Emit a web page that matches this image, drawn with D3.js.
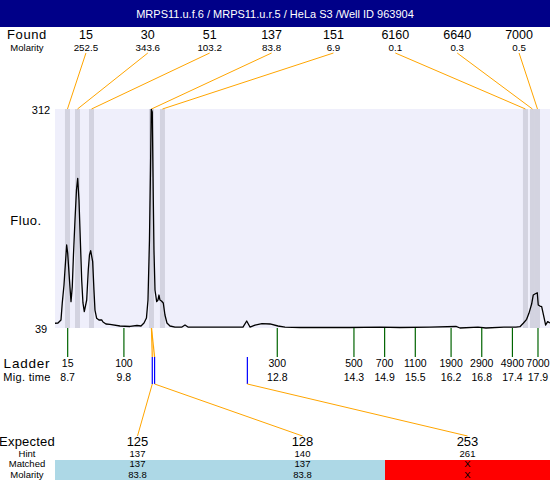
<!DOCTYPE html>
<html><head><meta charset="utf-8">
<script src="https://cdn.jsdelivr.net/npm/d3@7"></script>
<style>body{margin:0;background:#fff}svg{display:block;font-family:"Liberation Sans",Arial,sans-serif}</style>
</head><body><svg id="c" width="550" height="480"></svg>
<script>
const title = "MRPS11.u.f.6 / MRPS11.u.r.5 / HeLa S3 /Well ID 963904";
const foundSizes = ["15","30","51","137","151","6160","6640","7000"];
const foundMolarity = ["252.5","343.6","103.2","83.8","6.9","0.1","0.3","0.5"];
const foundTimes = [8.696, 8.892, 9.166, 10.339, 10.554, 17.655, 17.792, 17.890];
const ladderSizes = [15,100,300,500,700,1100,1900,2900,4900,7000];
const ladderTimes = [8.7,9.8,12.8,14.3,14.9,15.5,16.2,16.8,17.4,17.9];
const yTickValues = [39, 312];
const curveTime = [8.452,8.510,8.569,8.594,8.628,8.647,8.680,8.700,8.735,8.765,8.790,8.813,8.843,8.872,8.896,8.921,8.941,8.974,8.999,9.025,9.072,9.103,9.126,9.150,9.189,9.214,9.234,9.267,9.312,9.365,9.391,9.449,9.527,9.723,9.919,10.056,10.134,10.193,10.241,10.271,10.300,10.320,10.335,10.355,10.375,10.388,10.408,10.441,10.466,10.486,10.505,10.535,10.570,10.603,10.642,10.701,10.799,10.936,10.995,11.053,11.288,11.679,12.129,12.202,12.266,12.364,12.501,12.658,12.814,12.951,13.245,14.222,14.809,15.200,15.787,16.296,16.374,16.726,16.882,17.234,17.469,17.547,17.612,17.678,17.723,17.776,17.807,17.840,17.886,17.905,17.938,17.972,18.022,18.050,18.089,18.134];
const curveFluo = [44.9,45.2,49.0,70.2,92.6,111.3,142.5,132.5,98.8,71.8,90.5,130.0,173.6,211.0,225.6,198.6,161.2,98.8,70.2,59.3,73.9,111.3,130.0,135.4,121.7,86.4,61.4,51.1,49.0,49.0,46.5,44.0,43.4,41.5,40.9,42.1,41.5,45.2,51.5,73.9,148.7,236.0,311.6,308.3,198.6,136.2,86.4,71.8,73.9,80.1,73.9,72.7,70.2,55.2,45.2,41.5,40.2,40.2,42.7,40.2,40.2,40.2,40.2,47.7,40.2,42.7,44.4,44.0,41.5,40.2,39.6,39.6,40.2,39.6,40.2,40.9,39.0,40.2,39.0,40.2,40.2,40.6,44.9,49.8,57.3,68.9,80.1,81.4,83.0,67.7,66.4,65.6,51.1,42.7,46.9,45.2];
const expectedSizes = ["125","128","253"];
const hintSizes = [137,140,261];
const matchedSizes = ["137","137","X"];
const matchedMolarity = ["83.8","83.8","X"];
const matchedPeak = [3,3,-1];

const svg = d3.select("#c");
const L=55, R=550, T=109, B=328;
const x = d3.scaleLinear().domain([8.452,18.135]).range([L,R]);
const y = d3.scaleLinear().domain([39,312]).range([B,T]);
const sizeToTime = d3.scaleLinear().domain(ladderSizes).range(ladderTimes);
const orange="#FFA500";

// header
svg.append("rect").attr("x",0).attr("y",0).attr("width",550).attr("height",27).attr("fill","#000088");
svg.append("text").attr("x",275).attr("y",18).attr("text-anchor","middle").attr("fill","#fff").attr("font-size",11).text(title);

// found row
const fx = d3.scaleBand().domain(d3.range(foundSizes.length)).range([L,R]);
svg.append("text").attr("x",27).attr("y",38.5).attr("text-anchor","middle").attr("font-size",13).attr("letter-spacing",0.6).text("Found");
svg.append("text").attr("x",27).attr("y",50.5).attr("text-anchor","middle").attr("font-size",9.5).text("Molarity");
foundSizes.forEach((s,i)=>{
  const cx = fx(i)+fx.bandwidth()/2;
  svg.append("text").attr("x",cx).attr("y",38.5).attr("text-anchor","middle").attr("font-size",12.5).text(s);
  svg.append("text").attr("x",cx).attr("y",50.5).attr("text-anchor","middle").attr("font-size",9.8).text(foundMolarity[i]);
});

// plot bg
svg.append("rect").attr("x",L).attr("y",T).attr("width",R-L).attr("height",B-T).attr("fill","#EFEFFB");
const half = 0.049;
svg.selectAll("rect.band").data(foundTimes).enter().append("rect").attr("class","band")
  .attr("x",d=>x(d-half)).attr("y",T).attr("width",d=>x(d+half)-x(d-half)).attr("height",B-T).attr("fill","#D3D3E0");

// found lines
foundTimes.forEach((t,i)=>{
  const cx = fx(i)+fx.bandwidth()/2;
  svg.append("line").attr("x1",cx).attr("y1",53).attr("x2",x(t)).attr("y2",T).attr("stroke",orange).attr("stroke-width",1);
});

// curve
const line = d3.line().x(d=>x(d[0])).y(d=>y(d[1]));
svg.append("path").datum(curveTime.map((t,i)=>[t,curveFluo[i]])).attr("d",line).attr("fill","none").attr("stroke","#000").attr("stroke-width",1.3).attr("stroke-linejoin","round");

// y labels
yTickValues.forEach(v=>{
  svg.append("text").attr("x",41).attr("y",y(v)+5).attr("text-anchor","middle").attr("font-size",11).text(v);
});
svg.append("text").attr("x",26).attr("y",225).attr("text-anchor","middle").attr("font-size",13).attr("letter-spacing",0.5).text("Fluo.");

// ladder
ladderTimes.forEach((t,i)=>{
  svg.append("line").attr("x1",x(t)).attr("x2",x(t)).attr("y1",B).attr("y2",357).attr("stroke","#006400").attr("stroke-width",1.2);
  svg.append("text").attr("x",x(t)).attr("y",367).attr("text-anchor","middle").attr("font-size",10.5).text(ladderSizes[i]);
  svg.append("text").attr("x",x(t)).attr("y",381).attr("text-anchor","middle").attr("font-size",10.5).text(ladderTimes[i].toFixed(1));
});
svg.append("text").attr("x",27).attr("y",368).attr("text-anchor","middle").attr("font-size",13.5).attr("letter-spacing",0.8).text("Ladder");
svg.append("text").attr("x",27).attr("y",381).attr("text-anchor","middle").attr("font-size",11).attr("letter-spacing",0.3).text("Mig. time");

// expected
const ex = d3.scaleBand().domain(d3.range(expectedSizes.length)).range([L,R]);
hintSizes.forEach((h,i)=>{
  const hx = x(sizeToTime(h));
  const cx = ex(i)+ex.bandwidth()/2;
  if(matchedPeak[i]>=0){
    svg.append("line").attr("x1",x(foundTimes[matchedPeak[i]])).attr("y1",B).attr("x2",hx).attr("y2",357).attr("stroke",orange).attr("stroke-width",1.2);
  }
  svg.append("line").attr("x1",hx).attr("x2",hx).attr("y1",357).attr("y2",384).attr("stroke","#0000FF").attr("stroke-width",1.2);
  svg.append("line").attr("x1",hx).attr("y1",384).attr("x2",cx).attr("y2",436).attr("stroke",orange).attr("stroke-width",1);
});
svg.append("rect").attr("x",L).attr("y",460).attr("width",ex.bandwidth()*2).attr("height",20).attr("fill","#ADD8E6");
svg.append("rect").attr("x",L+ex.bandwidth()*2).attr("y",460).attr("width",ex.bandwidth()).attr("height",20).attr("fill","#FF0000");
const rowY = [446, 456.8, 467.4, 478];
svg.append("text").attr("x",27).attr("y",rowY[0]).attr("text-anchor","middle").attr("font-size",13).attr("letter-spacing",0.2).text("Expected");
svg.append("text").attr("x",27).attr("y",rowY[1]).attr("text-anchor","middle").attr("font-size",9.5).text("Hint");
svg.append("text").attr("x",27).attr("y",rowY[2]).attr("text-anchor","middle").attr("font-size",9.5).text("Matched");
svg.append("text").attr("x",27).attr("y",rowY[3]).attr("text-anchor","middle").attr("font-size",9.5).text("Molarity");
expectedSizes.forEach((e,i)=>{
  const cx = ex(i)+ex.bandwidth()/2;
  svg.append("text").attr("x",cx).attr("y",rowY[0]).attr("text-anchor","middle").attr("font-size",13).text(e);
  svg.append("text").attr("x",cx).attr("y",rowY[1]).attr("text-anchor","middle").attr("font-size",9.5).text(hintSizes[i]);
  svg.append("text").attr("x",cx).attr("y",rowY[2]).attr("text-anchor","middle").attr("font-size",9.5).text(matchedSizes[i]);
  svg.append("text").attr("x",cx).attr("y",rowY[3]).attr("text-anchor","middle").attr("font-size",9.5).text(matchedMolarity[i]);
});
</script></body></html>
